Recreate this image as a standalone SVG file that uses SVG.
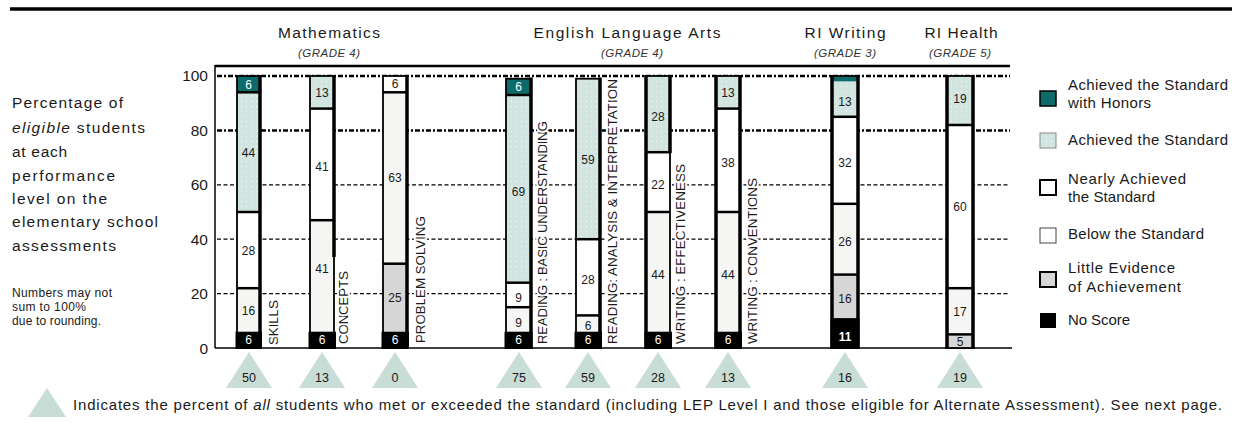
<svg xmlns="http://www.w3.org/2000/svg" width="1243" height="423" viewBox="0 0 1243 423">
<defs>
<pattern id="dots" width="5" height="5" patternUnits="userSpaceOnUse">
<rect width="5" height="5" fill="#d2e4e0"/>
<circle cx="1.5" cy="1.5" r="0.7" fill="#eef6f4"/>
</pattern>
</defs>
<style>
text{font-family:"Liberation Sans",Arial,sans-serif;fill:#1a1a1a}
.ax{font-size:15.5px;text-anchor:end}
.hd{font-size:15.5px;text-anchor:middle}
.gr{font-size:11.5px;font-style:italic;text-anchor:middle;fill:#333}
.lt{font-size:15.5px}
.sm{font-size:12px}
.lg{font-size:15px}
.n{font-size:12px;text-anchor:middle}
.w{fill:#fff}
.vl{font-size:13.5px;stroke:#fff;stroke-width:4;paint-order:stroke;stroke-linejoin:round}
.tri{fill:#c9ddd7}
.tn{font-size:12.5px;text-anchor:middle}
.g1{stroke:#000;stroke-width:2.5;stroke-dasharray:5 2 2 2;fill:none}
.g2{stroke:#000;stroke-width:1.2;stroke-dasharray:4 2.5;fill:none}
.hon{fill:#0d6b6b}
.ach{fill:url(#dots)}
.nea{fill:#fff}
.bel{fill:#f5f5f3}
.lit{fill:#d6d6d6}
.nos{fill:#000}
.sep{stroke:#000;stroke-width:2.5}
.out{fill:none;stroke:#000;stroke-width:1.8}
.edge{stroke:#000;stroke-width:3.5}
</style>

<line x1="10" y1="9" x2="1232" y2="9" stroke="#000" stroke-width="3.5"/>

<g id="left-text">
<text class="lt" x="12" y="108" textLength="111">Percentage of</text>
<text class="lt" x="12" y="133" textLength="133"><tspan font-style="italic">eligible</tspan> students</text>
<text class="lt" x="12" y="157" textLength="55">at each</text>
<text class="lt" x="12" y="181" textLength="103">performance</text>
<text class="lt" x="12" y="204" textLength="95">level on the</text>
<text class="lt" x="12" y="227" textLength="146">elementary school</text>
<text class="lt" x="12" y="251" textLength="104">assessments</text>
<text class="sm" x="12" y="297" textLength="100">Numbers may not</text>
<text class="sm" x="12" y="311" textLength="74">sum to 100%</text>
<text class="sm" x="12" y="325" textLength="89">due to rounding.</text>
</g>

<g id="headers">
<text class="hd" x="329" y="38" textLength="102">Mathematics</text>
<text class="gr" x="329" y="57" textLength="62">(GRADE 4)</text>
<text class="hd" x="627" y="38" textLength="187">English Language Arts</text>
<text class="gr" x="632" y="57" textLength="62">(GRADE 4)</text>
<text class="hd" x="845" y="38" textLength="81">RI Writing</text>
<text class="gr" x="845" y="57" textLength="62">(GRADE 3)</text>
<text class="hd" x="961" y="38" textLength="73">RI Health</text>
<text class="gr" x="960" y="57" textLength="62">(GRADE 5)</text>
</g>

<g id="axis">
<line x1="215" y1="66" x2="1010" y2="66" stroke="#000" stroke-width="2.5"/>
<line x1="215" y1="65" x2="215" y2="348" stroke="#000" stroke-width="1.5"/>
<line x1="215" y1="348" x2="1012" y2="348" stroke="#000" stroke-width="1.5"/>
<text class="ax" x="208" y="81">100</text>
<text class="ax" x="208" y="136">80</text>
<text class="ax" x="208" y="190">60</text>
<text class="ax" x="208" y="245">40</text>
<text class="ax" x="208" y="299">20</text>
<text class="ax" x="208" y="354">0</text>
</g>

<g id="gridlines">
<line class="g1" x1="217" y1="76" x2="1010" y2="76"/>
<line class="g1" x1="217" y1="130.4" x2="1010" y2="130.4"/>
<line class="g2" x1="217" y1="184.8" x2="1010" y2="184.8"/>
<line class="g2" x1="217" y1="239.2" x2="1010" y2="239.2"/>
<line class="g2" x1="217" y1="293.6" x2="1010" y2="293.6"/>
</g>

<g id="bar-skills">
<rect class="bel" x="237" y="288.2" width="23" height="43.5"/>
<rect class="nea" x="237" y="212" width="23" height="76.2"/>
<rect class="ach" x="237" y="92.3" width="23" height="119.7"/>
<rect class="hon" x="237" y="76" width="23" height="16.3"/>
<rect class="out" x="237" y="76" width="23" height="272"/>
<line class="sep" x1="237" y1="288.2" x2="260" y2="288.2"/>
<line class="sep" x1="237" y1="212" x2="260" y2="212"/>
<line class="sep" x1="237" y1="92.3" x2="260" y2="92.3"/>
<line class="edge" x1="260" y1="75" x2="260" y2="349"/>
<rect class="nos" x="235.5" y="331.7" width="26.5" height="17"/>
<text class="n w" x="248.5" y="344">6</text>
<text class="n" x="248.5" y="315">16</text>
<text class="n" x="248.5" y="255">28</text>
<text class="n" x="248.5" y="157">44</text>
<text class="n w" x="248.5" y="89">6</text>
<text class="vl" transform="translate(278,345) rotate(-90)" textLength="45">SKILLS</text>
</g>

<g id="bar-concepts">
<rect class="bel" x="310" y="220.2" width="24" height="111.5"/>
<rect class="nea" x="310" y="108.6" width="24" height="111.6"/>
<rect class="ach" x="310" y="76" width="24" height="32.6"/>
<rect class="out" x="310" y="76" width="24" height="272"/>
<line class="sep" x1="310" y1="220.2" x2="334" y2="220.2"/>
<line class="sep" x1="310" y1="108.6" x2="334" y2="108.6"/>
<line class="edge" x1="334" y1="75" x2="334" y2="257"/>
<rect class="nos" x="308.5" y="331.7" width="27.5" height="17"/>
<text class="n w" x="322" y="344">6</text>
<text class="n" x="322" y="273">41</text>
<text class="n" x="322" y="171">41</text>
<text class="n" x="322" y="97">13</text>
<text class="vl" transform="translate(348,344) rotate(-90)" textLength="73">CONCEPTS</text>
</g>

<g id="bar-problem-solving">
<rect class="lit" x="383" y="263.7" width="24" height="68"/>
<rect class="bel" x="383" y="92.3" width="24" height="171.4"/>
<rect class="nea" x="383" y="76" width="24" height="16.3"/>
<rect class="out" x="383" y="76" width="24" height="272"/>
<line class="sep" x1="383" y1="263.7" x2="407" y2="263.7"/>
<line class="sep" x1="383" y1="92.3" x2="407" y2="92.3"/>
<line class="edge" x1="407" y1="75" x2="407" y2="349"/>
<rect class="nos" x="381.5" y="331.7" width="27.5" height="17"/>
<text class="n w" x="395" y="344">6</text>
<text class="n" x="395" y="302">25</text>
<text class="n" x="395" y="182">63</text>
<text class="n" x="395" y="88">6</text>
<text class="vl" transform="translate(425,343) rotate(-90)" textLength="127">PROBLEM SOLVING</text>
</g>

<g id="bar-reading-basic">
<rect class="bel" x="506" y="307.2" width="25" height="24.5"/>
<rect class="nea" x="506" y="282.7" width="25" height="24.5"/>
<rect class="ach" x="506" y="95" width="25" height="187.7"/>
<rect class="hon" x="506" y="78.7" width="25" height="16.3"/>
<rect class="out" x="506" y="78.7" width="25" height="269.3"/>
<line class="sep" x1="506" y1="307.2" x2="531" y2="307.2"/>
<line class="sep" x1="506" y1="282.7" x2="531" y2="282.7"/>
<line class="sep" x1="506" y1="95" x2="531" y2="95"/>
<line class="edge" x1="531" y1="77.5" x2="531" y2="349"/>
<rect class="nos" x="504.5" y="331.7" width="28" height="17"/>
<text class="n w" x="518.5" y="344">6</text>
<text class="n" x="518.5" y="327">9</text>
<text class="n" x="518.5" y="302">9</text>
<text class="n" x="518.5" y="196">69</text>
<text class="n w" x="518.5" y="91">6</text>
<text class="vl" transform="translate(547,344) rotate(-90)" textLength="223">READING : BASIC UNDERSTANDING</text>
</g>

<g id="bar-reading-analysis">
<rect class="bel" x="576" y="315.4" width="24" height="16.3"/>
<rect class="nea" x="576" y="239.2" width="24" height="76.2"/>
<rect class="ach" x="576" y="78.7" width="24" height="160.5"/>
<rect class="out" x="576" y="78.7" width="24" height="269.3"/>
<line class="sep" x1="576" y1="315.4" x2="600" y2="315.4"/>
<line class="sep" x1="576" y1="239.2" x2="600" y2="239.2"/>
<line class="edge" x1="600" y1="77.5" x2="600" y2="349"/>
<rect class="nos" x="574.5" y="331.7" width="27.5" height="17"/>
<text class="n w" x="588" y="344">6</text>
<text class="n" x="588" y="330">6</text>
<text class="n" x="588" y="284">28</text>
<text class="n" x="588" y="164">59</text>
<text class="vl" transform="translate(617,344) rotate(-90)" textLength="265">READING: ANALYSIS &amp; INTERPRETATION</text>
</g>

<g id="bar-writing-effectiveness">
<rect class="bel" x="646" y="212" width="24" height="119.7"/>
<rect class="nea" x="646" y="152.2" width="24" height="59.8"/>
<rect class="ach" x="646" y="76" width="24" height="76.2"/>
<rect class="out" x="646" y="76" width="24" height="272"/>
<line class="sep" x1="646" y1="212" x2="669" y2="212"/>
<line class="sep" x1="646" y1="152.2" x2="671" y2="152.2"/>
<line class="edge" x1="670" y1="75" x2="670" y2="153"/>
<line class="edge" x1="646" y1="75" x2="646" y2="349"/>
<rect class="nos" x="644.5" y="331.7" width="27.5" height="17"/>
<text class="n w" x="658" y="344">6</text>
<text class="n" x="658" y="279">44</text>
<text class="n" x="658" y="189">22</text>
<text class="n" x="658" y="121">28</text>
<text class="vl" transform="translate(685,344) rotate(-90)" textLength="180">WRITING : EFFECTIVENESS</text>
</g>

<g id="bar-writing-conventions">
<rect class="bel" x="716" y="212" width="24" height="119.7"/>
<rect class="nea" x="716" y="108.6" width="24" height="103.4"/>
<rect class="ach" x="716" y="76" width="24" height="32.6"/>
<rect class="out" x="716" y="76" width="24" height="272"/>
<line class="sep" x1="716" y1="212" x2="740" y2="212"/>
<line class="sep" x1="716" y1="108.6" x2="740" y2="108.6"/>
<line class="edge" x1="716" y1="75" x2="716" y2="349"/>
<line class="edge" x1="740" y1="75" x2="740" y2="349"/>
<rect class="nos" x="714.5" y="331.7" width="27.5" height="17"/>
<text class="n w" x="728" y="344">6</text>
<text class="n" x="728" y="279">44</text>
<text class="n" x="728" y="167">38</text>
<text class="n" x="728" y="97">13</text>
<text class="vl" transform="translate(757,344) rotate(-90)" textLength="166">WRITING : CONVENTIONS</text>
</g>

<g id="bar-ri-writing">
<rect class="lit" x="832" y="274.6" width="26" height="43.5"/>
<rect class="bel" x="832" y="203.8" width="26" height="70.8"/>
<rect class="nea" x="832" y="116.8" width="26" height="87"/>
<rect class="ach" x="832" y="81.4" width="26" height="35.4"/>
<rect class="hon" x="832" y="76" width="26" height="5.4"/>
<rect class="out" x="832" y="76" width="26" height="272"/>
<line class="sep" x1="832" y1="274.6" x2="858" y2="274.6"/>
<line class="sep" x1="832" y1="203.8" x2="858" y2="203.8"/>
<line class="sep" x1="832" y1="116.8" x2="858" y2="116.8"/>
<line class="edge" x1="832" y1="75" x2="832" y2="349"/>
<line class="edge" x1="858" y1="75" x2="858" y2="349"/>
<rect class="nos" x="830.5" y="318.1" width="29" height="30.5"/>
<text class="n w" x="845" y="341" font-weight="bold">11</text>
<text class="n" x="845" y="303">16</text>
<text class="n" x="845" y="246">26</text>
<text class="n" x="845" y="167">32</text>
<text class="n" x="845" y="106">13</text>
</g>

<g id="bar-ri-health">
<rect class="lit" x="947" y="334.4" width="26" height="13.6"/>
<rect class="bel" x="947" y="288.2" width="26" height="46.2"/>
<rect class="nea" x="947" y="125" width="26" height="163.2"/>
<rect class="ach" x="947" y="76" width="26" height="49"/>
<rect class="out" x="947" y="76" width="26" height="272"/>
<line class="sep" x1="947" y1="334.4" x2="973" y2="334.4"/>
<line class="sep" x1="947" y1="288.2" x2="973" y2="288.2"/>
<line class="sep" x1="947" y1="125" x2="973" y2="125"/>
<line class="edge" x1="947" y1="75" x2="947" y2="349"/>
<line class="edge" x1="973" y1="75" x2="973" y2="349"/>
<text class="n" x="960" y="346">5</text>
<text class="n" x="960" y="316">17</text>
<text class="n" x="960" y="211">60</text>
<text class="n" x="960" y="103">19</text>
</g>

<g id="triangles">
<polygon class="tri" points="226,388 249,352 272,388"/><text class="tn" x="249" y="382">50</text>
<polygon class="tri" points="299,388 322,352 345,388"/><text class="tn" x="322" y="382">13</text>
<polygon class="tri" points="372,388 395,352 418,388"/><text class="tn" x="395" y="382">0</text>
<polygon class="tri" points="496,388 519,352 542,388"/><text class="tn" x="519" y="382">75</text>
<polygon class="tri" points="565,388 588,352 611,388"/><text class="tn" x="588" y="382">59</text>
<polygon class="tri" points="635,388 658,352 681,388"/><text class="tn" x="658" y="382">28</text>
<polygon class="tri" points="705,388 728,352 751,388"/><text class="tn" x="728" y="382">13</text>
<polygon class="tri" points="822,388 845,352 868,388"/><text class="tn" x="845" y="382">16</text>
<polygon class="tri" points="937,388 960,352 983,388"/><text class="tn" x="960" y="382">19</text>
</g>

<g id="legend">
<rect class="hon" x="1040" y="91" width="16" height="15" stroke="#000" stroke-width="1.5"/>
<text class="lg" x="1068" y="90" textLength="160">Achieved the Standard</text>
<text class="lg" x="1068" y="108" textLength="83">with Honors</text>
<rect class="ach" x="1040" y="133" width="16" height="15" stroke="#888" stroke-width="1"/>
<text class="lg" x="1068" y="145" textLength="160">Achieved the Standard</text>
<rect class="nea" x="1040" y="180" width="16" height="15" stroke="#000" stroke-width="2"/>
<text class="lg" x="1068" y="184" textLength="118">Nearly Achieved</text>
<text class="lg" x="1068" y="202" textLength="87">the Standard</text>
<rect class="nea" x="1040" y="228" width="16" height="15" stroke="#444" stroke-width="1"/>
<text class="lg" x="1068" y="239" textLength="136">Below the Standard</text>
<rect class="lit" x="1040" y="272" width="16" height="15" stroke="#000" stroke-width="2"/>
<text class="lg" x="1068" y="273" textLength="107">Little Evidence</text>
<text class="lg" x="1068" y="292" textLength="113">of Achievement</text>
<rect class="nos" x="1040" y="313" width="16" height="15"/>
<text class="lg" x="1068" y="325" textLength="62">No Score</text>
</g>

<g id="footnote">
<polygon class="tri" points="28,417 47,388 66,417"/>
<text class="lg" x="73" y="410" textLength="1149">Indicates the percent of <tspan font-style="italic">all</tspan> students who met or exceeded the standard (including LEP Level I and those eligible for Alternate Assessment). See next page.</text>
</g>
</svg>
